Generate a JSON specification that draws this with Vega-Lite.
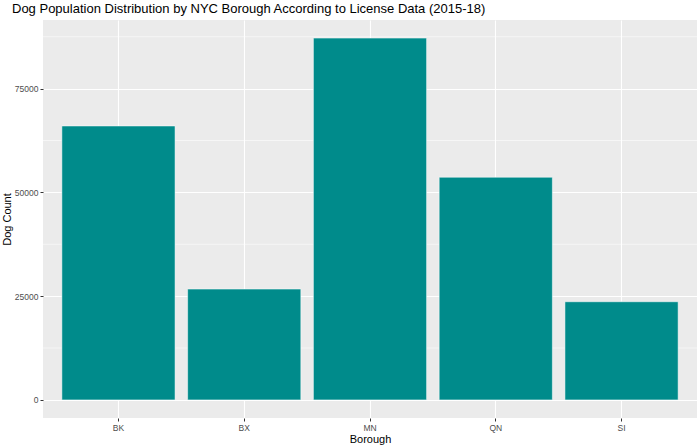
{
  "$schema": "https://vega.github.io/schema/vega-lite/v6.json",
  "autosize": {"type": "none"},
  "width": 654,
  "height": 398,
  "padding": {"left": 43, "top": 20, "right": 3, "bottom": 27},
  "background": "white",
  "config": {
    "view": {"fill": "#EBEBEB", "stroke": null},
    "font": "Liberation Sans",
    "axis": {
      "domain": false,
      "gridColor": "white",
      "gridWidth": 1.1,
      "tickColor": "#333333",
      "tickSize": 3,
      "tickWidth": 1,
      "labelColor": "#4D4D4D",
      "labelFontSize": 8.5,
      "labelFont": "Liberation Sans",
      "titleFont": "Liberation Sans",
      "titleFontSize": 11,
      "titleFontWeight": "normal",
      "titleColor": "black"
    }
  },
  "title": {
    "text": "Dog Population Distribution by NYC Borough According to License Data (2015-18)",
    "anchor": "start",
    "frame": "group",
    "dx": -31,
    "offset": 4,
    "fontSize": 13,
    "fontWeight": "normal",
    "font": "Liberation Sans",
    "color": "black"
  },
  "layer": [
    {
      "data": {"values": [{"v": 12500}, {"v": 37500}, {"v": 62500}, {"v": 87500}]},
      "mark": {"type": "rule", "color": "white", "strokeWidth": 0.55},
      "encoding": {
        "y": {"field": "v", "type": "quantitative", "scale": {"domain": [-4360, 91535], "nice": false, "zero": false}}
      }
    },
    {
      "data": {"values": [
        {"borough": "BK", "count": 66000},
        {"borough": "BX", "count": 26700},
        {"borough": "MN", "count": 87175},
        {"borough": "QN", "count": 53650},
        {"borough": "SI", "count": 23650}
      ]},
      "mark": {"type": "bar", "fill": "#008B8B", "stroke": "white", "strokeWidth": 0.5},
      "encoding": {
        "x": {
          "field": "borough", "type": "nominal", "sort": null,
          "scale": {"paddingInner": 0.1, "paddingOuter": 0.15},
          "axis": {"title": "Borough", "labelAngle": 0, "labelPadding": 2, "titlePadding": 2, "grid": true, "bandPosition": 0.5}
        },
        "y": {
          "field": "count", "type": "quantitative",
          "scale": {"domain": [-4360, 91535], "nice": false, "zero": false},
          "axis": {"title": "Dog Count", "values": [0, 25000, 50000, 75000], "format": "d", "labelPadding": 2, "titlePadding": 2, "grid": true}
        }
      }
    }
  ]
}
